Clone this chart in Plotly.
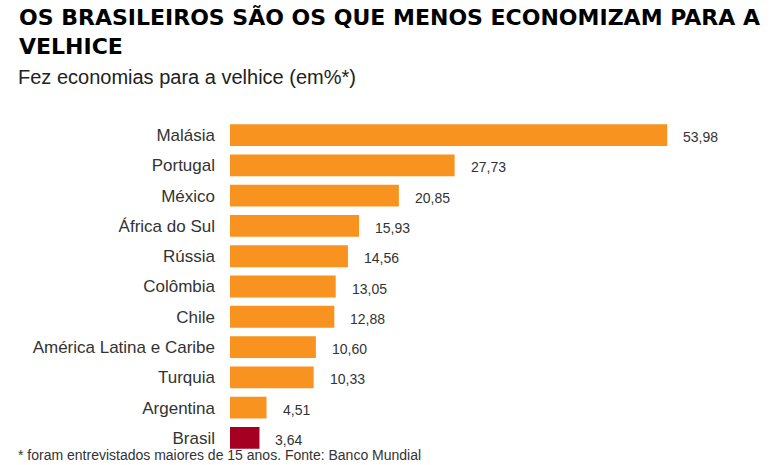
import plotly.graph_objects as go

categories = ["Malásia", "Portugal", "México", "África do Sul", "Rússia", "Colômbia",
              "Chile", "América Latina e Caribe", "Turquia", "Argentina", "Brasil"]
values = [53.98, 27.73, 20.85, 15.93, 14.56, 13.05, 12.88, 10.60, 10.33, 4.51, 3.64]
value_labels = ["53,98", "27,73", "20,85", "15,93", "14,56", "13,05", "12,88", "10,60", "10,33", "4,51", "3,64"]
highlight = "Brasil"

orange = "#F7931E"
red = "#A50021"
colors = [red if c == highlight else orange for c in categories]

FONT = "Liberation Sans, Arial, sans-serif"

fig = go.Figure(go.Bar(
    x=values, y=categories, orientation="h",
    marker=dict(color=colors, line=dict(width=0)),
    width=0.72, hoverinfo="skip",
))

for c, v, t in zip(categories, values, value_labels):
    fig.add_annotation(x=v, y=c, text=t, showarrow=False, xanchor="left",
                       xshift=14, yshift=-2,
                       font=dict(family=FONT, size=14, color="#333333"))

L, T, B = 230, 120, 12
W = 779 - L
H = 465 - T - B

fig.update_layout(
    width=779, height=465,
    margin=dict(l=L, r=0, t=T, b=B, autoexpand=False),
    paper_bgcolor="white", plot_bgcolor="white",
    showlegend=False,
    xaxis=dict(range=[0, W / 8.1], visible=False, fixedrange=True),
    yaxis=dict(categoryorder="array", categoryarray=categories[::-1],
               range=[-0.5, 10.5], showgrid=False, zeroline=False, showline=False,
               ticks="", ticklabelstandoff=14, automargin=False, fixedrange=True,
               tickfont=dict(family=FONT, size=17, color="#333333")),
    font=dict(family=FONT),
)

def px_x(x):
    return (x - L) / W
def px_y(y):
    return (465 - B - y) / H

fig.add_annotation(xref="paper", yref="paper", x=px_x(17), y=px_y(3), xanchor="left", yanchor="top",
                   text="<b>OS BRASILEIROS SÃO OS QUE MENOS ECONOMIZAM PARA A<br>VELHICE</b>",
                   align="left", showarrow=False,
                   font=dict(family="DejaVu Sans", size=22, color="#000000"))
fig.add_annotation(xref="paper", yref="paper", x=px_x(16), y=px_y(64), xanchor="left", yanchor="top",
                   text="Fez economias para a velhice (em%*)",
                   align="left", showarrow=False,
                   font=dict(family=FONT, size=20, color="#222222"))
fig.add_annotation(xref="paper", yref="paper", x=px_x(16), y=px_y(445), xanchor="left", yanchor="top",
                   text="* foram entrevistados maiores de 15 anos. Fonte: Banco Mundial",
                   align="left", showarrow=False,
                   font=dict(family=FONT, size=14, color="#333333"))

fig.write_html("out.html", config={"displayModeBar": False},
               post_script="document.body.style.margin='0';document.body.style.overflow='hidden';")
